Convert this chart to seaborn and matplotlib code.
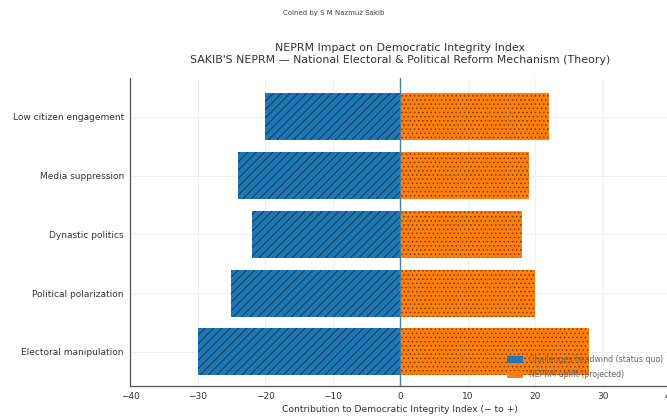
import matplotlib
matplotlib.use("Agg")
import matplotlib.pyplot as plt
import seaborn as sns
import pandas as pd

categories = ["Low citizen engagement", "Media suppression", "Dynastic politics",
              "Political polarization", "Electoral manipulation"]
headwind = [-20, -24, -22, -25, -30]
uplift = [22, 19, 18, 20, 28]
series_names = ["Challenges headwind (status quo)", "NEPRM uplift (projected)"]
xticks = [-40, -30, -20, -10, 0, 10, 20, 30, 40]

df = pd.DataFrame({
    "category": categories * 2,
    "value": headwind + uplift,
    "series": [series_names[0]] * len(categories) + [series_names[1]] * len(categories),
})

sns.set_style("white")
plt.rcParams['font.family'] = ['DejaVu Sans']
plt.rcParams['hatch.linewidth'] = 0.6

fig = plt.figure(figsize=(6.67, 4.2), dpi=100)
ax = fig.add_axes([0.195, 0.081, 0.81, 0.733])

sns.barplot(data=df, y="category", x="value", hue="series", orient="h",
            dodge=False, width=0.8, palette=["#1f77b4", "#ff7f0e"],
            saturation=1, linewidth=0, ax=ax, order=categories,
            hue_order=series_names)

hatches = ["////", "...."]
for cont, h in zip(ax.containers, hatches):
    for bar in cont:
        bar.set_hatch(h)
        bar.set_edgecolor("#0d2f4f" if h == "////" else "#7a3a00")
        bar.set_linewidth(0)

ax.axvline(0, color="#4a7fa8", linewidth=1.0, zorder=5)
ax.set_xlim(-40, 40)
ax.set_ylim(4.58, -0.66)
ax.set_xticks(xticks)
ax.grid(True, color="#ececec", linewidth=0.6)
ax.set_axisbelow(True)
for s in ["top", "right"]:
    ax.spines[s].set_visible(False)
for s in ["left", "bottom"]:
    ax.spines[s].set_color("#555555")
    ax.spines[s].set_linewidth(0.9)
ax.tick_params(axis="both", labelsize=6.5, colors="#333333", length=2.5, width=0.6, pad=2)
ax.set_ylabel("")
ax.set_xlabel("Contribution to Democratic Integrity Index (− to +)", fontsize=6.6,
              color="#333333", labelpad=3)
ax.set_title("NEPRM Impact on Democratic Integrity Index\n"
             "SAKIB'S NEPRM — National Electoral & Political Reform Mechanism (Theory)",
             fontsize=7.9, color="#333333", pad=11, linespacing=1.2)
fig.text(0.5, 0.968, "Coined by S M Nazmuz Sakib", ha="center", va="center",
         fontsize=5.0, color="#444444")

leg = ax.legend(loc="lower right", fontsize=5.6, frameon=False,
                handlelength=2.0, handleheight=0.9, labelspacing=0.75,
                borderaxespad=0.5)
for t in leg.get_texts():
    t.set_color("#666666")

fig.savefig("out.png", dpi=100)
